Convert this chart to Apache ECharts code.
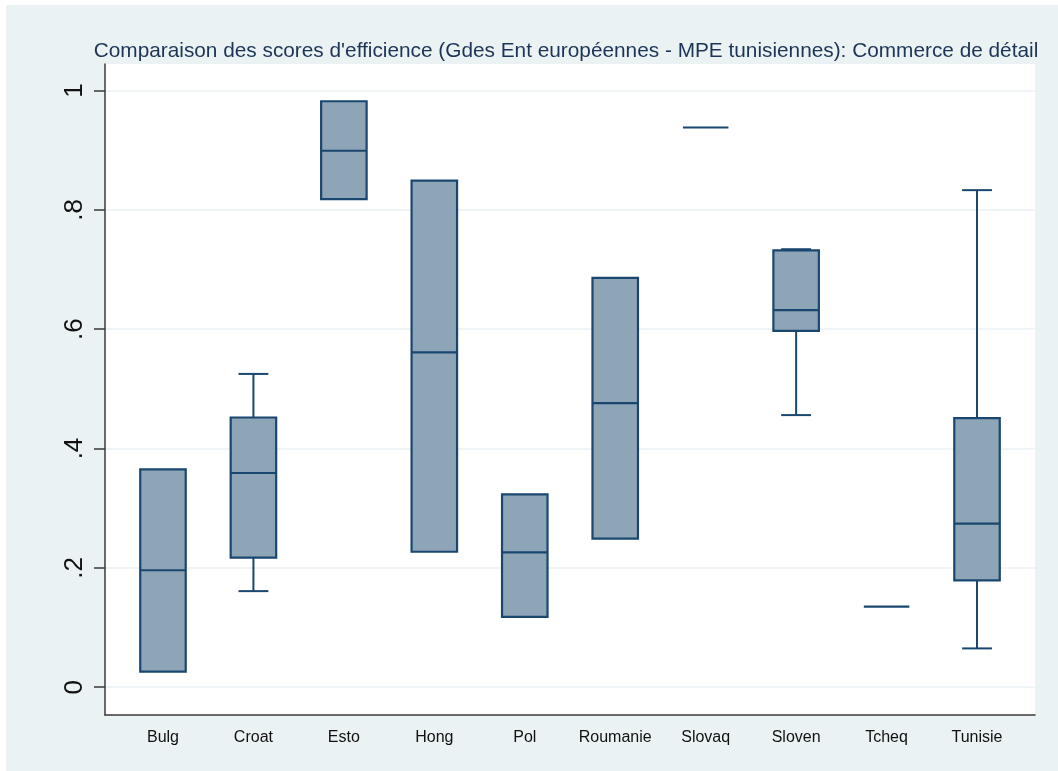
<!DOCTYPE html>
<html>
<head>
<meta charset="utf-8">
<script src="https://cdn.jsdelivr.net/npm/echarts@6/dist/echarts.min.js"></script>
<style>
  html, body { margin: 0; padding: 0; background: #ffffff; }
  #chart { position: absolute; left: 6px; top: 5px; width: 1052px; height: 766px; }
</style>
</head>
<body>
<div id="chart"></div>
<script>
// Efficiency scores by country: box summaries (lower whisker, Q1, median, Q3, upper whisker)
const categories = ['Bulg', 'Croat', 'Esto', 'Hong', 'Pol', 'Roumanie', 'Slovaq', 'Sloven', 'Tcheq', 'Tunisie'];
const whiskerLow  = [0.026, 0.161, 0.818, 0.227, 0.118, 0.249, 0.938, 0.456, 0.135, 0.065];
const quart1      = [0.026, 0.217, 0.818, 0.227, 0.118, 0.249, 0.938, 0.597, 0.135, 0.179];
const median      = [0.196, 0.359, 0.899, 0.561, 0.226, 0.476, 0.938, 0.632, 0.135, 0.274];
const quart3      = [0.365, 0.452, 0.982, 0.849, 0.323, 0.686, 0.938, 0.732, 0.135, 0.451];
const whiskerHigh = [0.365, 0.525, 0.982, 0.849, 0.323, 0.686, 0.938, 0.734, 0.135, 0.833];

const yTicks = [0, 0.2, 0.4, 0.6, 0.8, 1];
const yTickLabels = ['0', '.2', '.4', '.6', '.8', '1'];
const titleText = "Comparaison des scores d'efficience (Gdes Ent européennes - MPE tunisiennes): Commerce de détail";

const boxData = categories.map((c, i) => [i, whiskerLow[i], quart1[i], median[i], quart3[i], whiskerHigh[i]]);

const STROKE = '#1a476f';
const FILL = '#8ea4b7';

function renderBox(params, api) {
  const x = api.value(0);
  const lo = api.value(1), q1 = api.value(2), md = api.value(3), q3 = api.value(4), hi = api.value(5);
  const cx = api.coord([x, md])[0];
  const yLo = api.coord([x, lo])[1];
  const yQ1 = api.coord([x, q1])[1];
  const yMd = api.coord([x, md])[1];
  const yQ3 = api.coord([x, q3])[1];
  const yHi = api.coord([x, hi])[1];
  const halfBox = api.size([0.503, 0])[0] / 2;
  const halfCap = api.size([0.33, 0])[0] / 2;
  const lineStyle = { stroke: STROKE, lineWidth: 2 };
  const children = [];
  if (hi > q3) {
    children.push({ type: 'line', shape: { x1: cx, y1: yQ3, x2: cx, y2: yHi }, style: lineStyle });
    children.push({ type: 'line', shape: { x1: cx - halfCap, y1: yHi, x2: cx + halfCap, y2: yHi }, style: lineStyle });
  }
  if (lo < q1) {
    children.push({ type: 'line', shape: { x1: cx, y1: yQ1, x2: cx, y2: yLo }, style: lineStyle });
    children.push({ type: 'line', shape: { x1: cx - halfCap, y1: yLo, x2: cx + halfCap, y2: yLo }, style: lineStyle });
  }
  if (q3 > q1) {
    children.push({
      type: 'rect',
      shape: { x: cx - halfBox, y: yQ3, width: halfBox * 2, height: yQ1 - yQ3 },
      style: { fill: FILL, stroke: STROKE, lineWidth: 2.2 }
    });
  }
  children.push({ type: 'line', shape: { x1: cx - halfBox, y1: yMd, x2: cx + halfBox, y2: yMd }, style: { stroke: STROKE, lineWidth: 2.2 } });
  return { type: 'group', children: children };
}

const chart = echarts.init(document.getElementById('chart'), null, { renderer: 'canvas' });
chart.setOption({
  backgroundColor: '#eaf2f3',
  animation: false,
  title: {
    text: titleText,
    left: 560,
    top: 36,
    textAlign: 'center',
    padding: 0,
    textStyle: { fontFamily: 'Liberation Sans, Arial, sans-serif', fontSize: 20.8, fontWeight: 'normal', color: '#1e3456' }
  },
  grid: {
    left: 99, right: 23, top: 59, bottom: 56,
    show: true, backgroundColor: '#ffffff', borderWidth: 0
  },
  xAxis: {
    type: 'value',
    min: -0.641, max: 9.641,
    splitLine: { show: false },
    axisTick: { show: false },
    axisLine: { show: true, onZero: false, lineStyle: { color: '#3a3a3a', width: 1.5 } },
    axisLabel: {
      customValues: categories.map((c, i) => i),
      formatter: v => categories[Math.round(v)],
      margin: 15,
      fontFamily: 'Liberation Sans, Arial, sans-serif',
      fontSize: 16,
      color: '#111111'
    }
  },
  yAxis: {
    type: 'value',
    min: -0.0466, max: 1.0444,
    axisLine: { show: true, onZero: false, lineStyle: { color: '#3a3a3a', width: 1.5 } },
    axisTick: { show: true, length: 11, customValues: yTicks, lineStyle: { color: '#3a3a3a', width: 1.5 } },
    axisLabel: {
      customValues: yTicks,
      formatter: v => yTickLabels[yTicks.findIndex(t => Math.abs(t - v) < 1e-9)],
      rotate: 90,
      margin: 17,
      fontFamily: 'Liberation Sans, Arial, sans-serif',
      fontSize: 26,
      color: '#111111'
    },
    splitLine: { show: true, lineStyle: { color: '#eaf2f3', width: 1.6 } }
  },
  series: [{
    type: 'custom',
    renderItem: renderBox,
    data: boxData,
    encode: { x: 0, y: [1, 2, 3, 4, 5] },
    clip: false
  }]
});
</script>
</body>
</html>
